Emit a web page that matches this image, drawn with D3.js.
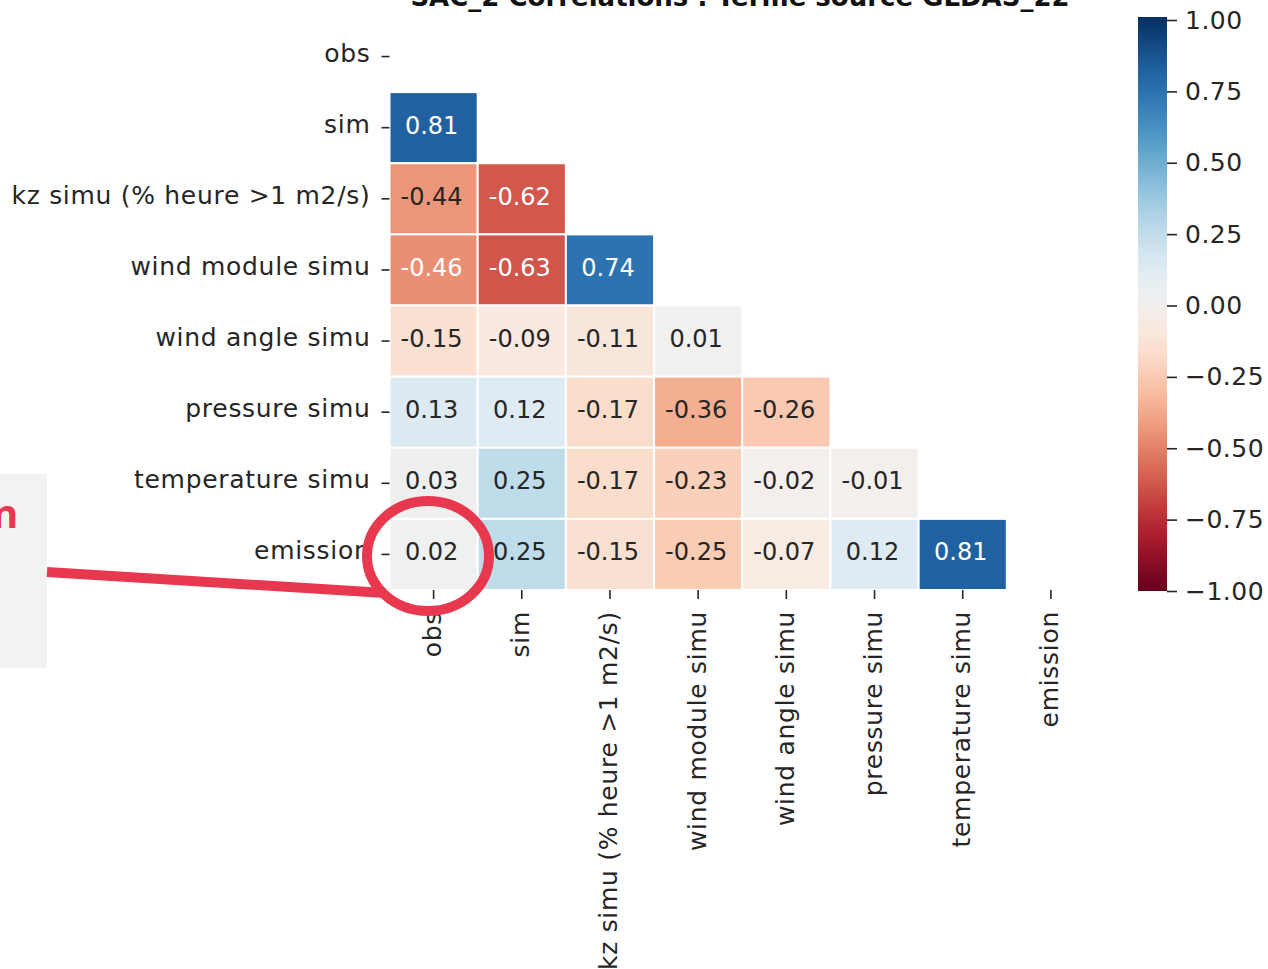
<!DOCTYPE html>
<html><head><meta charset="utf-8">
<script src="https://cdn.jsdelivr.net/npm/d3@7"></script>
<style>body{margin:0;background:#fff;} svg{display:block;font-family:"DejaVu Sans",sans-serif;}</style>
</head><body>
<svg id="c" width="1268" height="969"></svg>
<script>
const labels = ["obs","sim","kz simu (% heure >1 m2/s)","wind module simu","wind angle simu","pressure simu","temperature simu","emission"];
const rowSim = [0.81];
const rowKz = [-0.44,-0.62];
const rowWindModule = [-0.46,-0.63,0.74];
const rowWindAngle = [-0.15,-0.09,-0.11,0.01];
const rowPressure = [0.13,0.12,-0.17,-0.36,-0.26];
const rowTemperature = [0.03,0.25,-0.17,-0.23,-0.02,-0.01];
const rowEmission = [0.02,0.25,-0.15,-0.25,-0.07,0.12,0.81];
const rows = [[], rowSim, rowKz, rowWindModule, rowWindAngle, rowPressure, rowTemperature, rowEmission];
const cbTicks = [-1,-0.75,-0.5,-0.25,0,0.25,0.5,0.75,1];
const title = "SAC_2 Correlations : Terme source GLDAS_22";

const svg = d3.select("#c");
const x = d3.scaleBand().domain(labels).range([389.5,1095]);
const y = d3.scaleBand().domain(labels).range([21,590]);
const color = v => d3.interpolateRdBu((v+1)/2);

function lum(c){
  const r = d3.rgb(c);
  const f = u => { u/=255; return u<=0.03928 ? u/12.92 : Math.pow((u+0.055)/1.055,2.4); };
  return 0.2126*f(r.r)+0.7152*f(r.g)+0.0722*f(r.b);
}

const cells = [];
rows.forEach((vals,i)=>vals.forEach((v,j)=>cells.push({r:labels[i],c:labels[j],v})));

const g = svg.append("g");
g.selectAll("rect").data(cells).enter().append("rect")
  .attr("x",d=>x(d.c)).attr("y",d=>y(d.r))
  .attr("width",x.bandwidth()).attr("height",y.bandwidth())
  .attr("fill",d=>color(d.v)).attr("stroke","#fff").attr("stroke-width",2);
g.selectAll("text").data(cells).enter().append("text")
  .attr("x",d=>x(d.c)+x.bandwidth()/2-2).attr("y",d=>y(d.r)+y.bandwidth()/2-2)
  .attr("text-anchor","middle").attr("dominant-baseline","central")
  .attr("font-size",24)
  .attr("fill",d=>lum(color(d.v))>0.408?"#262626":"#ffffff")
  .text(d=>d3.format(".2f")(d.v).replace("−","-"));

// axes
const ya = svg.append("g").attr("transform","translate(389.5,0)")
  .call(d3.axisLeft(y).tickSize(8).tickPadding(11));
ya.select(".domain").remove();
ya.selectAll("line").attr("stroke","#262626").attr("stroke-width",1.6);
ya.selectAll("text").attr("font-size",25).attr("letter-spacing",0.7).attr("fill","#262626")
  .attr("font-family","DejaVu Sans").attr("dy","0.32em").attr("y",-3);

const xa = svg.append("g").attr("transform","translate(0,590)")
  .call(d3.axisBottom(x).tickSize(9).tickPadding(11));
xa.select(".domain").remove();
xa.selectAll("line").attr("stroke","#262626").attr("stroke-width",1.6);
xa.selectAll("text").attr("font-size",25).attr("letter-spacing",0.7).attr("fill","#262626").attr("font-family","DejaVu Sans")
  .attr("text-anchor","end").attr("dy",null).attr("dominant-baseline","central")
  .attr("transform","translate(-1,21) rotate(-90)").attr("y",0).attr("x",0);

// colorbar
const cb = d3.scaleLinear().domain([-1,1]).range([591,20]);
const defs = svg.append("defs");
const grad = defs.append("linearGradient").attr("id","cbg").attr("x1",0).attr("y1",1).attr("x2",0).attr("y2",0);
d3.range(0,1.0001,0.05).forEach(t=>grad.append("stop").attr("offset",t).attr("stop-color",d3.interpolateRdBu(t)));
svg.append("rect").attr("x",1138).attr("y",cb(1)-3).attr("width",29).attr("height",cb(-1)-cb(1)+3).attr("fill","url(#cbg)");
const ca = svg.append("g").attr("transform","translate(1167,0)")
  .call(d3.axisRight(cb).tickValues(cbTicks).tickFormat(d3.format(".2f")).tickSize(10).tickPadding(8));
ca.select(".domain").remove();
ca.selectAll("line").attr("stroke","#262626").attr("stroke-width",1.6);
ca.selectAll("text").attr("font-size",25).attr("letter-spacing",0.5).attr("fill","#262626").attr("font-family","DejaVu Sans");

// title (cut off at top)
svg.append("text").attr("x",740).attr("y",6).attr("text-anchor","middle")
  .attr("font-size",26).attr("font-weight","bold").attr("fill","#111").text(title);

// overlay annotations
svg.append("rect").attr("x",0).attr("y",474).attr("width",47).attr("height",194).attr("fill","#f2f2f2");
svg.append("text").attr("x",-8).attr("y",528).attr("font-size",40).attr("font-weight","bold")
  .attr("font-family","Open Sans, sans-serif").attr("fill","#e8384f").text("n");
svg.append("line").attr("x1",47).attr("y1",572).attr("x2",385).attr("y2",593)
  .attr("stroke","#e8384f").attr("stroke-width",10);
svg.append("ellipse").attr("cx",428).attr("cy",556).attr("rx",61).attr("ry",55)
  .attr("fill","none").attr("stroke","#e8384f").attr("stroke-width",10);
</script>
</body></html>
